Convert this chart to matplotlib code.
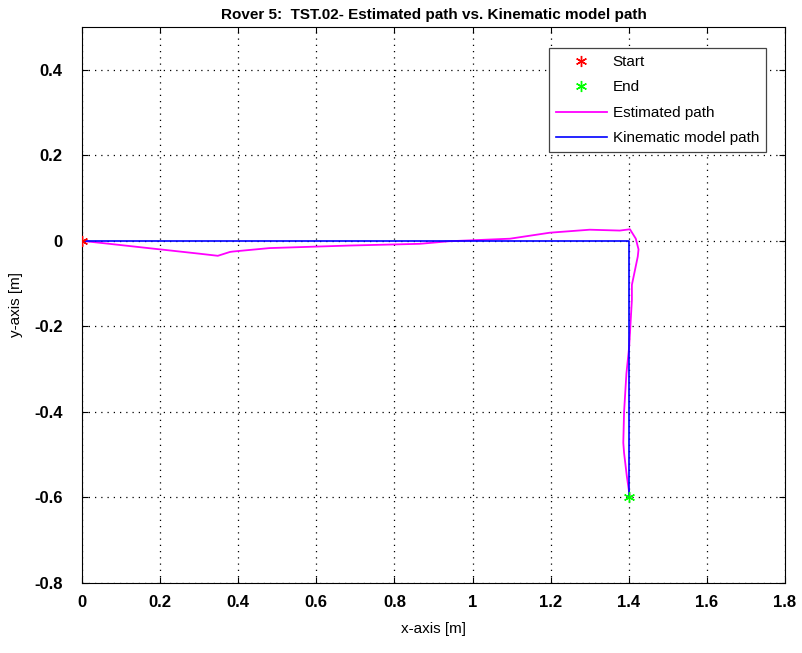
import numpy as np
import matplotlib
matplotlib.use("Agg")
import matplotlib.pyplot as plt

plt.rcParams["font.family"] = ["Liberation Sans", "DejaVu Sans"]

# kinematic model path (straight legs)
kin_x = [0.0, 1.4, 1.4]
kin_y = [0.0, 0.0, -0.6]

# estimated path from the filter
est_x = [0.0, 0.10, 0.20, 0.30, 0.348, 0.379, 0.387, 0.48, 0.686, 0.865, 0.94,
         1.096, 1.198, 1.30, 1.377, 1.403, 1.418, 1.425, 1.423, 1.408, 1.408,
         1.401, 1.394, 1.388, 1.386, 1.388, 1.395, 1.403, 1.4]
est_y = [0.0, -0.010, -0.020, -0.030, -0.035, -0.026, -0.025, -0.017, -0.011, -0.007, -0.001,
         0.005, 0.019, 0.026, 0.024, 0.027, 0.005, -0.020, -0.037, -0.103, -0.138,
         -0.248, -0.31, -0.40, -0.472, -0.496, -0.55, -0.601, -0.6]

start = (0.0, 0.0)
end = (1.4, -0.6)

xticks = [0, 0.2, 0.4, 0.6, 0.8, 1, 1.2, 1.4, 1.6, 1.8]
xtick_labels = ["0", "0.2", "0.4", "0.6", "0.8", "1", "1.2", "1.4", "1.6", "1.8"]
yticks = [-0.8, -0.6, -0.4, -0.2, 0, 0.2, 0.4]
ytick_labels = ["-0.8", "-0.6", "-0.4", "-0.2", "0", "0.2", "0.4"]

fig = plt.figure(figsize=(8.03, 6.53), dpi=100)
ax = fig.add_axes([0.102, 0.1072, 0.8756, 0.8515])

star = (6, 2, 0)
ax.plot(start[0], start[1], linestyle="none", marker=star, color="red",
        markersize=8, markeredgewidth=1.0, label="Start", zorder=5)
ax.plot(end[0], end[1], linestyle="none", marker=star, color="#00ff00",
        markersize=8, markeredgewidth=1.0, label="End", zorder=5)
ax.plot(est_x, est_y, color="#ff00ff", linewidth=1.3, label="Estimated path")
ax.plot(kin_x, kin_y, color="#0000ff", linewidth=1.2, label="Kinematic model path")

ax.set_xlim(0, 1.8)
ax.set_ylim(-0.8, 0.5)
ax.set_xticks(xticks)
ax.set_xticklabels(xtick_labels)
ax.set_yticks(yticks)
ax.set_yticklabels(ytick_labels)
ax.tick_params(direction="in", labelsize=12, length=4, top=True, right=True,
               labeltop=False, labelright=False)
ax.tick_params(axis="x", pad=9)
ax.tick_params(axis="y", pad=14)
for lbl in ax.get_xticklabels() + ax.get_yticklabels():
    lbl.set_fontweight("bold")
ax.grid(True, linestyle=(0, (1, 4)), color="black", linewidth=0.9)
for s in ax.spines.values():
    s.set_linewidth(0.8)

ax.set_xlabel("x-axis [m]", fontsize=11, labelpad=8)
ax.set_ylabel("y-axis [m]", fontsize=11, labelpad=8)
ax.set_title("Rover 5:  TST.02- Estimated path vs. Kinematic model path",
             fontsize=11, fontweight="bold", pad=6)

leg = ax.legend(loc="upper right", bbox_to_anchor=(0.973, 0.962), fontsize=11,
                fancybox=False, framealpha=1, edgecolor="#444444",
                borderpad=0.45, labelspacing=0.75, handlelength=3.3,
                handletextpad=0.4, borderaxespad=0)
leg.get_frame().set_linewidth(0.9)

fig.savefig("out.png", dpi=100)
